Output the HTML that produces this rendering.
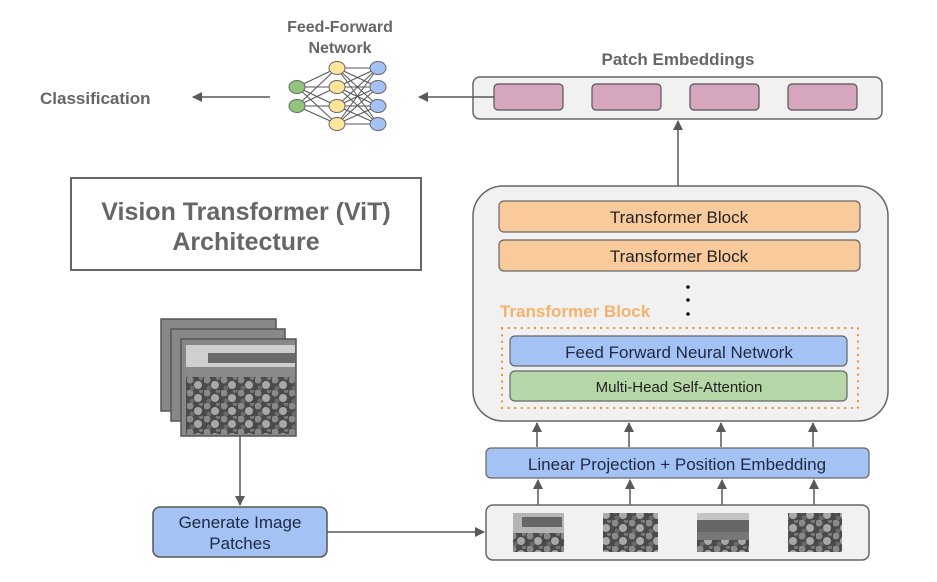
<!DOCTYPE html>
<html><head><meta charset="utf-8"><style>
html,body{margin:0;padding:0;background:#fff;}
svg{display:block;}
text{font-family:"Liberation Sans",Arial,sans-serif;}
</style></head><body>
<svg width="937" height="582" viewBox="0 0 937 582" xmlns="http://www.w3.org/2000/svg">
<defs>
<marker id="ah" markerWidth="10" markerHeight="10" refX="9" refY="5" orient="auto" markerUnits="userSpaceOnUse">
<path d="M0,0 L10,5 L0,10 z" fill="#595959"/>
</marker>
<pattern id="crowd" width="17" height="13" patternUnits="userSpaceOnUse">
<rect width="17" height="13" fill="#4a4a4a"/>
<circle cx="3" cy="3" r="3.5" fill="#8a8a8a"/>
<circle cx="11" cy="8" r="4" fill="#a8a8a8"/>
<circle cx="5" cy="11" r="2.5" fill="#6a6a6a"/>
<circle cx="14" cy="1" r="2.2" fill="#777"/>
</pattern>
</defs>

<text x="340" y="32" font-size="16" font-weight="bold" fill="#666" text-anchor="middle">Feed-Forward</text>
<text x="340" y="53" font-size="16" font-weight="bold" fill="#666" text-anchor="middle">Network</text>
<text x="40" y="104" font-size="17" font-weight="bold" fill="#666">Classification</text>
<line x1="270" y1="97" x2="193" y2="97" stroke="#595959" stroke-width="1.5" marker-end="url(#ah)"/>

<g stroke="#555" stroke-width="1">
<line x1="297" y1="87" x2="337" y2="68"/><line x1="297" y1="87" x2="337" y2="87"/><line x1="297" y1="87" x2="337" y2="106"/><line x1="297" y1="87" x2="337" y2="124"/>
<line x1="297" y1="106" x2="337" y2="68"/><line x1="297" y1="106" x2="337" y2="87"/><line x1="297" y1="106" x2="337" y2="106"/><line x1="297" y1="106" x2="337" y2="124"/>
<line x1="337" y1="68" x2="378" y2="68"/><line x1="337" y1="68" x2="378" y2="87"/><line x1="337" y1="68" x2="378" y2="106"/><line x1="337" y1="68" x2="378" y2="124"/>
<line x1="337" y1="87" x2="378" y2="68"/><line x1="337" y1="87" x2="378" y2="87"/><line x1="337" y1="87" x2="378" y2="106"/><line x1="337" y1="87" x2="378" y2="124"/>
<line x1="337" y1="106" x2="378" y2="68"/><line x1="337" y1="106" x2="378" y2="87"/><line x1="337" y1="106" x2="378" y2="106"/><line x1="337" y1="106" x2="378" y2="124"/>
<line x1="337" y1="124" x2="378" y2="68"/><line x1="337" y1="124" x2="378" y2="87"/><line x1="337" y1="124" x2="378" y2="106"/><line x1="337" y1="124" x2="378" y2="124"/>
</g>
<g stroke="#666" stroke-width="1">
<ellipse cx="297" cy="87" rx="8" ry="6.5" fill="#93c47d"/>
<ellipse cx="297" cy="106" rx="8" ry="6.5" fill="#93c47d"/>
<ellipse cx="337" cy="68" rx="8" ry="6.5" fill="#ffe599"/>
<ellipse cx="337" cy="87" rx="8" ry="6.5" fill="#ffe599"/>
<ellipse cx="337" cy="106" rx="8" ry="6.5" fill="#ffe599"/>
<ellipse cx="337" cy="124" rx="8" ry="6.5" fill="#ffe599"/>
<ellipse cx="378" cy="68" rx="8" ry="6.5" fill="#a4c2f4"/>
<ellipse cx="378" cy="87" rx="8" ry="6.5" fill="#a4c2f4"/>
<ellipse cx="378" cy="106" rx="8" ry="6.5" fill="#a4c2f4"/>
<ellipse cx="378" cy="124" rx="8" ry="6.5" fill="#a4c2f4"/>
</g>

<text x="678" y="65" font-size="17" font-weight="bold" fill="#666" text-anchor="middle">Patch Embeddings</text>
<rect x="473" y="77" width="409" height="42" rx="7" fill="#f1f1f1" stroke="#666" stroke-width="1.5"/>
<line x1="494" y1="97" x2="419" y2="97" stroke="#595959" stroke-width="1.5" marker-end="url(#ah)"/>
<g fill="#d5a6bd" stroke="#555" stroke-width="1.2">
<rect x="494" y="84" width="69" height="26" rx="4"/>
<rect x="592" y="84" width="69" height="26" rx="4"/>
<rect x="690" y="84" width="69" height="26" rx="4"/>
<rect x="788" y="84" width="69" height="26" rx="4"/>
</g>
<line x1="678" y1="186" x2="678" y2="121" stroke="#595959" stroke-width="1.5" marker-end="url(#ah)"/>

<rect x="71" y="178" width="350" height="92" fill="#fff" stroke="#666" stroke-width="2"/>
<text x="246" y="220" font-size="25" font-weight="bold" fill="#666" text-anchor="middle">Vision Transformer (ViT)</text>
<text x="246" y="250" font-size="25" font-weight="bold" fill="#666" text-anchor="middle">Architecture</text>

<rect x="473" y="186" width="415" height="235" rx="30" fill="#f1f1f1" stroke="#666" stroke-width="1.5"/>
<rect x="499" y="201" width="361" height="31" rx="5" fill="#f9cb9c" stroke="#666" stroke-width="1.2"/>
<text x="679" y="223" font-size="17" fill="#222" text-anchor="middle">Transformer Block</text>
<rect x="499" y="240" width="361" height="31" rx="5" fill="#f9cb9c" stroke="#666" stroke-width="1.2"/>
<text x="679" y="262" font-size="17" fill="#222" text-anchor="middle">Transformer Block</text>
<circle cx="688" cy="287" r="1.8" fill="#111"/>
<circle cx="688" cy="300" r="1.8" fill="#111"/>
<circle cx="688" cy="314" r="1.8" fill="#111"/>
<text x="500" y="317" font-size="17" font-weight="bold" fill="#f6b26b">Transformer Block</text>
<rect x="502" y="328" width="356" height="80" fill="none" stroke="#e69138" stroke-width="2.2" stroke-dasharray="0.1,6.5" stroke-linecap="round"/>
<rect x="510" y="336" width="337" height="30" rx="5" fill="#a4c2f4" stroke="#666" stroke-width="1.2"/>
<text x="679" y="358" font-size="17" fill="#1c2a44" text-anchor="middle">Feed Forward Neural Network</text>
<rect x="510" y="371" width="337" height="30" rx="5" fill="#b6d7a8" stroke="#666" stroke-width="1.2"/>
<text x="679" y="392" font-size="15" fill="#222" text-anchor="middle">Multi-Head Self-Attention</text>

<g stroke="#595959" stroke-width="1.5">
<line x1="537" y1="447" x2="537" y2="423" marker-end="url(#ah)"/>
<line x1="629" y1="447" x2="629" y2="423" marker-end="url(#ah)"/>
<line x1="721" y1="447" x2="721" y2="423" marker-end="url(#ah)"/>
<line x1="813" y1="447" x2="813" y2="423" marker-end="url(#ah)"/>
<line x1="538" y1="505" x2="538" y2="480" marker-end="url(#ah)"/>
<line x1="630" y1="505" x2="630" y2="480" marker-end="url(#ah)"/>
<line x1="722" y1="505" x2="722" y2="480" marker-end="url(#ah)"/>
<line x1="814" y1="505" x2="814" y2="480" marker-end="url(#ah)"/>
</g>
<rect x="486" y="448" width="383" height="30" rx="5" fill="#a4c2f4" stroke="#666" stroke-width="1.2"/>
<text x="677" y="470" font-size="17" fill="#1c2a44" text-anchor="middle">Linear Projection + Position Embedding</text>

<rect x="486" y="505" width="383" height="55" rx="7" fill="#f1f1f1" stroke="#666" stroke-width="1.5"/>
<rect x="513" y="513" width="51" height="39" fill="url(#crowd)"/>
<rect x="513" y="513" width="51" height="20" fill="#b5b5b5"/><rect x="522" y="517" width="40" height="10" fill="#666"/>
<rect x="603" y="513" width="55" height="39" fill="url(#crowd)"/>
<rect x="697" y="513" width="52" height="39" fill="#777"/>
<rect x="697" y="513" width="52" height="8" fill="#c5c5c5"/><rect x="697" y="520" width="52" height="12" fill="#666"/>
<rect x="697" y="540" width="52" height="12" fill="url(#crowd)"/>
<rect x="788" y="513" width="54" height="39" fill="url(#crowd)"/>

<rect x="161" y="319" width="115" height="92" fill="#888" stroke="#555" stroke-width="1.5"/>
<rect x="171" y="329" width="114" height="92" fill="#888" stroke="#555" stroke-width="1.5"/>
<rect x="181" y="339" width="115" height="97" fill="#888" stroke="#555" stroke-width="1.5"/>
<rect x="186" y="345" width="109" height="89" fill="url(#crowd)"/>
<rect x="186" y="345" width="109" height="22" fill="#cfcfcf"/>
<rect x="208" y="353" width="87" height="10" fill="#6a6a6a"/>
<rect x="186" y="367" width="109" height="10" fill="#8a8a8a"/>

<line x1="240" y1="436" x2="240" y2="505" stroke="#595959" stroke-width="1.5" marker-end="url(#ah)"/>
<rect x="153" y="507" width="174" height="50" rx="7" fill="#a4c2f4" stroke="#555" stroke-width="1.5"/>
<text x="240" y="528" font-size="17" fill="#1c2a44" text-anchor="middle">Generate Image</text>
<text x="240" y="549" font-size="17" fill="#1c2a44" text-anchor="middle">Patches</text>
<line x1="327" y1="532" x2="484" y2="532" stroke="#595959" stroke-width="1.5" marker-end="url(#ah)"/>
</svg>
</body></html>
